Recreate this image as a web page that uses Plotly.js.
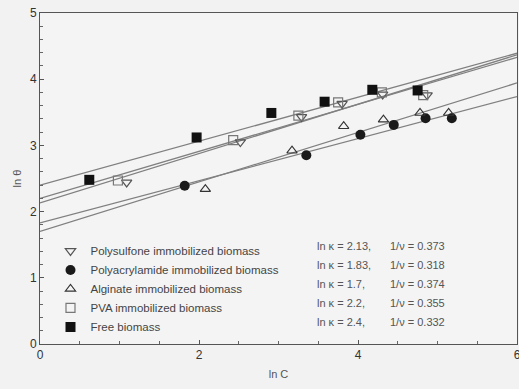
<!DOCTYPE html>
<html>
<head>
<meta charset="utf-8">
<script src="https://cdn.plot.ly/plotly-3.0.1.min.js"></script>
<style>html,body{margin:0;padding:0;background:#f2f2f2;}#chart{width:519px;height:389px;}</style>
</head>
<body>
<div id="chart"></div>
<script>
// Series names and fit parameters (from the legend)
const seriesNames = ["Polysulfone immobilized biomass", "Polyacrylamide immobilized biomass", "Alginate immobilized biomass", "PVA immobilized biomass", "Free biomass"];
const lnK = [2.13, 1.83, 1.7, 2.2, 2.4];
const invN = [0.373, 0.318, 0.374, 0.355, 0.332];
const paramLabels = ["ln \u03ba = 2.13,", "ln \u03ba = 1.83,", "ln \u03ba = 1.7,", "ln \u03ba = 2.2,", "ln \u03ba = 2.4,"];
const slopeLabels = ["1/\u03bd = 0.373", "1/\u03bd = 0.318", "1/\u03bd = 0.374", "1/\u03bd = 0.355", "1/\u03bd = 0.332"];

const polysulfoneX = [1.09, 2.52, 3.29, 3.80, 4.31, 4.87];
const polysulfoneY = [2.44, 3.05, 3.43, 3.63, 3.77, 3.76];
const polyacrylX = [1.82, 3.35, 4.03, 4.45, 4.85, 5.18];
const polyacrylY = [2.39, 2.85, 3.16, 3.31, 3.41, 3.41];
const alginateX = [2.08, 3.17, 3.82, 4.32, 4.78, 5.14];
const alginateY = [2.34, 2.92, 3.29, 3.39, 3.49, 3.49];
const pvaX = [0.98, 2.43, 3.25, 3.75, 4.30, 4.82];
const pvaY = [2.47, 3.08, 3.45, 3.65, 3.80, 3.76];
const freeX = [0.62, 1.97, 2.91, 3.58, 4.18, 4.75];
const freeY = [2.48, 3.12, 3.49, 3.66, 3.84, 3.83];

const lineRange = [0, 6];

const pointsX = [polysulfoneX, polyacrylX, alginateX, pvaX, freeX];
const pointsY = [polysulfoneY, polyacrylY, alginateY, pvaY, freeY];
const markerStyles = [
  {symbol: "triangle-down-open", size: 9, color: "#555", line: {width: 1.2}},
  {symbol: "circle", size: 10, color: "#1a1a1a"},
  {symbol: "triangle-up-open", size: 9, color: "#333", line: {width: 1.1}},
  {symbol: "square-open", size: 9, color: "#777", line: {width: 1.2}},
  {symbol: "square", size: 10, color: "#111"}
];

const traces = [];
// fitted isotherm lines
for (let i = 0; i < seriesNames.length; i++) {
  traces.push({
    x: lineRange,
    y: lineRange.map(v => lnK[i] + invN[i] * v),
    mode: "lines",
    line: {color: "#808080", width: 1.3},
    showlegend: false,
    hoverinfo: "skip"
  });
}
for (let i = 0; i < seriesNames.length; i++) {
  traces.push({
    x: pointsX[i],
    y: pointsY[i],
    mode: "markers",
    name: seriesNames[i],
    marker: markerStyles[i]
  });
}

const annotations = [];
const rowTop = 0.295, rowStep = 19 / 331;
for (let i = 0; i < seriesNames.length; i++) {
  annotations.push({
    xref: "x", yref: "paper", x: 3.46, y: rowTop - i * rowStep,
    xanchor: "left", yanchor: "middle", showarrow: false,
    text: paramLabels[i], font: {family: "Liberation Sans, Arial, sans-serif", size: 11, color: "#555"}
  });
  annotations.push({
    xref: "x", yref: "paper", x: 4.38, y: rowTop - i * rowStep,
    xanchor: "left", yanchor: "middle", showarrow: false,
    text: slopeLabels[i], font: {family: "Liberation Sans, Arial, sans-serif", size: 11, color: "#555"}
  });
}

const layout = {
  width: 519, height: 389,
  margin: {l: 40, r: 2, t: 13, b: 45},
  paper_bgcolor: "#f2f2f2",
  plot_bgcolor: "#f4f4f4",
  font: {family: "Liberation Sans, Arial, sans-serif", size: 12, color: "#333"},
  xaxis: {
    range: [0, 6], dtick: 2, tick0: 0, showgrid: false, zeroline: false,
    showline: true, mirror: true, linecolor: "#555", linewidth: 1,
    ticks: "inside", ticklen: 4, tickcolor: "#555", ticklabeloverflow: "allow",
    minor: {dtick: 0.5, ticks: "inside", ticklen: 3, tickcolor: "#666"},
    title: {text: "ln C", font: {size: 11, color: "#555"}, standoff: 8},
    tickfont: {size: 12, color: "#333"}
  },
  yaxis: {
    range: [0, 5], dtick: 1, tick0: 0, showgrid: false, zeroline: false,
    showline: true, mirror: true, linecolor: "#555", linewidth: 1,
    ticks: "inside", ticklen: 4, tickcolor: "#555",
    minor: {dtick: 0.2, ticks: "inside", ticklen: 3, tickcolor: "#666"},
    title: {text: "ln \u03b8", font: {size: 11, color: "#555"}, standoff: 6},
    tickfont: {size: 12, color: "#333"}
  },
  legend: {
    x: 0.022, y: 0.325, xanchor: "left", yanchor: "top",
    bgcolor: "rgba(0,0,0,0)", borderwidth: 0,
    font: {size: 11.5, color: "#444"}, tracegroupgap: 0
  },
  annotations: annotations,
  showlegend: true
};

Plotly.newPlot("chart", traces, layout, {displayModeBar: false, staticPlot: true});
</script>
</body>
</html>
